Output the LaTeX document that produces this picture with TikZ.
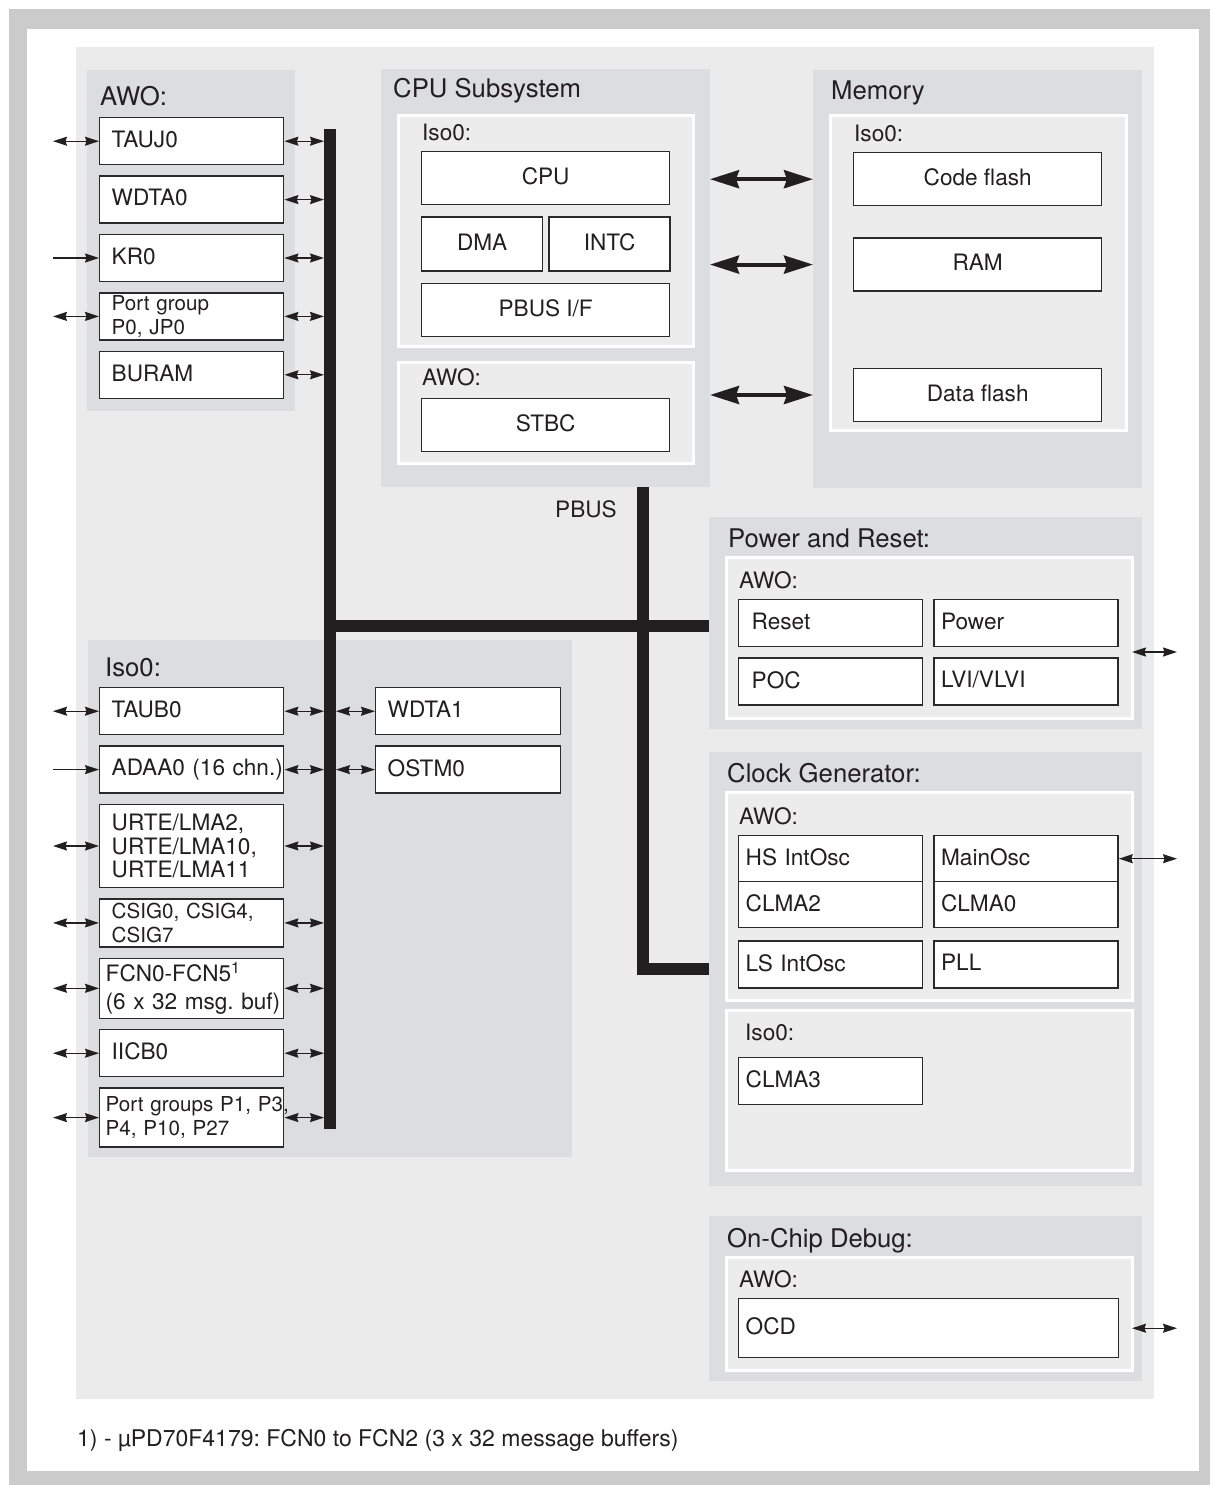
\documentclass[tikz,border=0pt]{standalone}
\usepackage{fontspec}
\setmainfont{TeX Gyre Heros}
\usepackage{tikz}
\usetikzlibrary{arrows.meta,positioning}
\definecolor{ink}{HTML}{231F20}
\definecolor{rim}{HTML}{CBCBCB}
\definecolor{panel}{HTML}{EBEBEB}
\definecolor{shade}{HTML}{DCDDDF}
\definecolor{frmfill}{HTML}{ECECEC}
\definecolor{edge}{HTML}{2A2A2A}
\newcommand{\grpfont}{\fontsize{25.7}{28}\selectfont}
\newcommand{\blkfont}{\fontsize{22.6}{23.5}\selectfont}
\newcommand{\portfont}{\fontsize{20.6}{24.5}\selectfont}
\frenchspacing

\begin{document}
\begin{tikzpicture}[
      x=1pt, y=-1pt,
      node distance=10pt,
      grp/.style={rectangle, fill=shade, inner sep=0pt, outer sep=0pt, anchor=north west},
      frm/.style={rectangle, fill=frmfill, draw=white, line width=3pt, inner sep=0pt, outer sep=0pt, anchor=north west},
      ttl/.style={font=\grpfont, text=ink, inner sep=0pt, anchor=base west},
      lbl/.style={font=\blkfont, text=ink, inner sep=0pt, anchor=base west},
      blk/.style={rectangle, draw=edge, fill=white, line width=1.4pt, text=ink,
                  font=\blkfont, inner ysep=2pt, minimum height=47pt, text depth=4pt},
      multi/.style={text depth=},
      pbox/.style={blk, inner xsep=12pt, text width=160pt, align=left},
      rbox/.style={blk, inner xsep=7pt, text width=170pt, align=left},
      cbox/.style={blk, inner xsep=0pt, minimum height=53pt, align=center},
      io/.style={<->, >={Stealth[length=14pt,width=9pt,inset=1.5pt]}, line width=1.3pt, draw=ink},
      feed/.style={io, ->},
      fat/.style={<->, >={Stealth[length=29pt,width=18pt,inset=3pt]}, line width=4pt, draw=ink},
      bus/.style={line width=12pt, draw=ink, line join=miter}
    ]
      \useasboundingbox (0,0) rectangle (1210,1485);
      \fill[rim] (9,9) rectangle (1210,1485);
      \fill[white] (27,29) rectangle (1199,1471);
      \fill[panel] (76,47) rectangle (1154,1399);

      \node[grp, minimum width=208pt, minimum height=341pt] (awo) at (87,70) {};
      \node[grp, minimum width=329pt, minimum height=418pt] (cpusys) at (381,69) {};
      \node[grp, minimum width=329pt, minimum height=418pt] (memory) at (813,70) {};
      \node[grp, minimum width=484pt, minimum height=517pt] (iso) at (88,640) {};
      \node[grp, minimum width=433pt, minimum height=212pt] (pwr) at (709,517) {};
      \node[grp, minimum width=433pt, minimum height=434pt] (clk) at (709,752) {};
      \node[grp, minimum width=433pt, minimum height=165pt] (dbg) at (709,1216) {};

      \node[frm, minimum width=295pt, minimum height=230pt] (cpuiso) at (398,116) {};
      \node[frm, minimum width=295pt, minimum height=101pt] (cpuawo) at (398,362) {};
      \node[frm, minimum width=296pt, minimum height=314pt] (memiso) at (830,116) {};
      \node[frm, minimum width=406pt, minimum height=161pt] (pwrawo) at (726,557) {};
      \node[frm, minimum width=406pt, minimum height=208pt] (clkawo) at (726,792) {};
      \node[frm, minimum width=406pt, minimum height=160pt] (clkiso) at (726,1010) {};
      \node[frm, minimum width=406pt, minimum height=113pt] (dbgawo) at (726,1257) {};

      \node[ttl] (awottl) at (100,106) {AWO:};
      \node[ttl] (cputtl) at (393,98) {CPU Subsystem};
      \node[ttl] (memttl) at (831,100) {Memory};
      \node[ttl] (isottl) at (105,676) {Iso0:};
      \node[ttl] (pwrttl) at (728,547) {Power and Reset:};
      \node[ttl] (clkttl) at (727,782) {Clock Generator:};
      \node[ttl] (dbgttl) at (727,1247) {On-Chip Debug:};
      \node[lbl] (cpuisolbl) at (422,140) {Iso0:};
      \node[lbl] (cpuawolbl) at (422,385) {AWO:};
      \node[lbl] (memisolbl) at (854,142) {Iso0:};
      \node[lbl] (pwrawolbl) at (739,588) {AWO:};
      \node[lbl] (clkawolbl) at (739,824) {AWO:};
      \node[lbl] (clkisolbl) at (745,1040) {Iso0:};
      \node[lbl] (dbgawolbl) at (739,1287) {AWO:};
      \node[lbl] (pbuslbl) at (555,517) {PBUS};

      \coordinate (bustop) at (330,129);
      \coordinate (busbot) at (330,1129);
      \coordinate (tap) at (330,626);
      \coordinate (pbus) at (643,487);
      \coordinate (busl) at (324,0);
      \coordinate (busr) at (336,0);
      \coordinate (extl) at (53,0);
      \coordinate (extr) at (1177,0);
      \coordinate (pwrio) at (1177,652);
      \draw[bus] (bustop) -- (busbot);
      \draw[bus] (tap) -- (tap -| pwr.west);
      \draw[bus] (pbus) -- (pbus |- clk.west) -- (clk.west);

      \node[pbox, anchor=north west] (tauj) at (99,117) {TAUJ0};
      \node[pbox, below=of tauj] (wdtazero) {WDTA0};
      \node[pbox, below=of wdtazero] (krzero) {KR0};
      \node[pbox, multi, below=of krzero, font=\portfont] (pgzero) {Port group\\P0, JP0};
      \node[pbox, below=of pgzero] (buram) {BURAM};

      \node[pbox, anchor=north west] (taub) at (99,687) {TAUB0};
      \node[pbox, below=of taub] (adaa) {\mbox{ADAA0 (16 chn.)}};
      \node[pbox, multi, below=of adaa, minimum height=83pt] (urte) {URTE/LMA2,\\URTE/LMA10,\\URTE/LMA11};
      \node[pbox, multi, below=of urte, minimum height=48pt, font=\portfont] (csig) {CSIG0, CSIG4,\\CSIG7};
      \node[pbox, multi, below=of csig, minimum height=60pt, inner xsep=6pt, text width=172pt,
            font=\fontsize{22.6}{28}\selectfont] (fcn) {FCN0-FCN5\textsuperscript{1}\\\mbox{(6 x 32 msg. buf)}};
      \node[pbox, below=of fcn] (iicb) {IICB0};
      \node[pbox, multi, below=of iicb, minimum height=59pt, inner xsep=6pt, text width=172pt,
            font=\portfont] (pgone) {\mbox{Port groups P1, P3,}\\P4, P10, P27};
      \node[pbox, anchor=north west, text width=161pt] (wdtaone) at (375,687) {WDTA1};
      \node[pbox, below=of wdtaone, text width=161pt] (ostm) {OSTM0};

      \node[cbox, minimum width=248pt, anchor=north west] (cpu) at (421,151) {CPU};
      \node[cbox, minimum width=121pt, minimum height=54pt, below=11pt of cpu.south west, anchor=north west] (dma) {DMA};
      \node[cbox, minimum width=121pt, minimum height=54pt, right=5pt of dma] (intc) {INTC};
      \node[cbox, minimum width=248pt, below=11pt of dma.south west, anchor=north west] (pbusif) {PBUS I/F};
      \node[cbox, minimum width=248pt, anchor=north west] (stbc) at (421,398) {STBC};

      \node[cbox, minimum width=248pt, anchor=north west] (codeflash) at (853,152) {Code flash};
      \node[cbox, minimum width=248pt, below=31pt of codeflash] (ram) {RAM};
      \node[cbox, minimum width=248pt, below=76pt of ram] (dataflash) {Data flash};

      \node[pbox, anchor=north west, inner xsep=13pt, text width=158pt] (reset) at (738,599) {Reset};
      \node[rbox, right=10pt of reset] (power) {Power};
      \node[pbox, below=of reset, inner xsep=13pt, text width=158pt] (poc) {POC};
      \node[rbox, below=of power] (lvi) {LVI/VLVI};

      \node[rbox, anchor=north west, minimum height=46pt] (hsosc) at (738,835) {HS IntOsc};
      \node[rbox, below=-1.4pt of hsosc, minimum height=46pt] (clmatwo) {CLMA2};
      \node[rbox, right=10pt of hsosc, minimum height=46pt] (mainosc) {MainOsc};
      \node[rbox, below=-1.4pt of mainosc, minimum height=46pt] (clmazero) {CLMA0};
      \node[rbox, below=12pt of clmatwo] (lsosc) {LS IntOsc};
      \node[rbox, right=10pt of lsosc] (pll) {PLL};
      \node[rbox, anchor=north west] (clmathree) at (738,1057) {CLMA3};
      \node[rbox, anchor=north west, minimum height=59pt, text width=366pt] (ocd) at (738,1298) {OCD};

      \draw[io] (extl |- tauj.west) -- (tauj.west);
      \draw[feed] (extl |- krzero.west) -- (krzero.west);
      \draw[io] (extl |- pgzero.west) -- (pgzero.west);
      \draw[io] (tauj.east) -- (tauj.east -| busl);
      \draw[io] (wdtazero.east) -- (wdtazero.east -| busl);
      \draw[io] (krzero.east) -- (krzero.east -| busl);
      \draw[io] (pgzero.east) -- (pgzero.east -| busl);
      \draw[io] (buram.east) -- (buram.east -| busl);

      \draw[io] (extl |- taub.west) -- (taub.west);
      \draw[feed] (extl |- adaa.west) -- (adaa.west);
      \draw[io] (extl |- urte.west) -- (urte.west);
      \draw[io] (extl |- csig.west) -- (csig.west);
      \draw[io] (extl |- fcn.west) -- (fcn.west);
      \draw[io] (extl |- iicb.west) -- (iicb.west);
      \draw[io] (extl |- pgone.west) -- (pgone.west);
      \draw[io] (taub.east) -- (taub.east -| busl);
      \draw[io] (adaa.east) -- (adaa.east -| busl);
      \draw[io] (urte.east) -- (urte.east -| busl);
      \draw[io] (csig.east) -- (csig.east -| busl);
      \draw[io] (fcn.east) -- (fcn.east -| busl);
      \draw[io] (iicb.east) -- (iicb.east -| busl);
      \draw[io] (pgone.east) -- (pgone.east -| busl);
      \draw[io] (busr |- wdtaone.west) -- (wdtaone.west);
      \draw[io] (busr |- ostm.west) -- (ostm.west);

      \draw[fat] (cpusys.east |- codeflash) -- (memory.west |- codeflash);
      \draw[fat] (cpusys.east |- ram) -- (memory.west |- ram);
      \draw[fat] (cpusys.east |- dataflash) -- (memory.west |- dataflash);

      \draw[io] (pwrawo.east |- pwrio) -- (pwrio);
      \draw[io] (mainosc.east) -- (mainosc.east -| extr);
      \draw[io] (dbgawo.east |- ocd) -- (ocd -| extr);

      \node[lbl, font=\fontsize{23}{26}\selectfont] (note) at (77,1446) {1) - µPD70F4179: FCN0 to FCN2 (3 x 32 message buffers)};
    \end{tikzpicture}
\end{document}
